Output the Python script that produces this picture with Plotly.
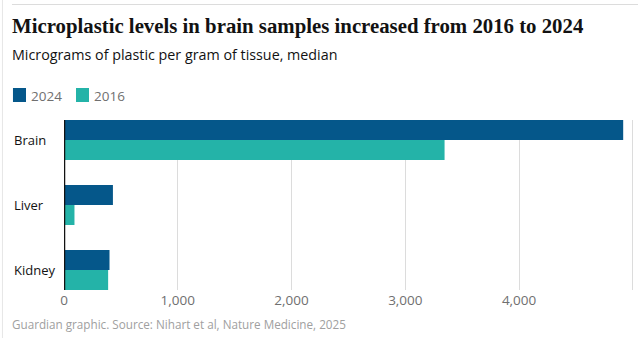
import plotly.graph_objects as go

# Median microplastic concentration (µg per g of tissue)
organs = ["Brain", "Liver", "Kidney"]
values_2024 = [4915, 430, 400]
values_2016 = [3345, 92, 388]
series_names = ["2024", "2016"]
series_colors = ["#05578a", "#24b3a8"]
x_ticks = [0, 1000, 2000, 3000, 4000, 5000]
x_tick_labels = ["0", "1,000", "2,000", "3,000", "4,000", ""]
x_max = 5010

W, H = 638, 338
L, T, B = 64, 120, 290
PX_PER_UNIT = 0.1137
R = L + x_max * PX_PER_UNIT

TEXT_FONT = "Open Sans, Noto Sans, Roboto, Arial"
HEAD_FONT = "Liberation Serif, DejaVu Serif, serif"


def px_x(p):
    return (p - L) / (R - L)


def px_y(p):
    return (B - p) / (B - T)


fig = go.Figure()
for name, vals, col in zip(series_names, [values_2024, values_2016], series_colors):
    fig.add_trace(go.Bar(
        y=organs, x=vals, name=name, orientation="h",
        marker=dict(color=col, line=dict(width=0)),
        showlegend=False, hoverinfo="x+name",
    ))

annotations = [
    dict(text="<b>Microplastic levels in brain samples increased from 2016 to 2024</b>",
         x=px_x(10), y=px_y(26), xanchor="left", yanchor="middle",
         font=dict(family=HEAD_FONT, size=20.8, color="#121212")),
    dict(text="Micrograms of plastic per gram of tissue, median",
         x=px_x(10), y=px_y(54), xanchor="left", yanchor="middle",
         font=dict(family=TEXT_FONT, size=14.3, color="#121212")),
    dict(text="Guardian graphic. Source: Nihart et al, Nature Medicine, 2025",
         x=px_x(10), y=px_y(324), xanchor="left", yanchor="middle",
         font=dict(family=TEXT_FONT, size=11.7, color="#a0a0a0")),
]

# Category labels, left aligned
for organ in organs:
    annotations.append(dict(text=organ, x=px_x(12), xref="paper", y=organ, yref="y",
                            xanchor="left", yanchor="middle", showarrow=False,
                            font=dict(family=TEXT_FONT, size=13, color="#121212")))

shapes = [
    # top rule and left frame line
    dict(type="line", xref="paper", yref="paper", x0=px_x(12), x1=px_x(W), y0=px_y(4.5), y1=px_y(4.5),
         line=dict(color="#dcdcdc", width=1)),
    dict(type="line", xref="paper", yref="paper", x0=px_x(2.5), x1=px_x(2.5), y0=px_y(0), y1=px_y(H),
         line=dict(color="#e6e6e6", width=1)),
    # baseline at zero, drawn over the bars
    dict(type="line", xref="x", yref="paper", x0=0, x1=0, y0=0, y1=1, layer="above",
         line=dict(color="#121212", width=2.5)),
]

# Legend swatches and labels
legend_x = [13, 76]
for name, col, lx in zip(series_names, series_colors, legend_x):
    shapes.append(dict(type="rect", xref="paper", yref="paper",
                       x0=px_x(lx), x1=px_x(lx + 13), y0=px_y(88), y1=px_y(102),
                       fillcolor=col, line=dict(width=0)))
    annotations.append(dict(text=name, x=px_x(lx + 16), y=px_y(96), xanchor="left", yanchor="middle",
                            font=dict(family=TEXT_FONT, size=13.5, color="#707070")))

for a in annotations:
    a.setdefault("xref", "paper")
    a.setdefault("yref", "paper")
    a.setdefault("showarrow", False)

fig.update_layout(
    width=W, height=H,
    margin=dict(l=L, r=W - R, t=T, b=H - B, pad=0),
    paper_bgcolor="white", plot_bgcolor="white",
    barmode="group", bargap=0.385, bargroupgap=0,
    annotations=annotations, shapes=shapes,
    xaxis=dict(range=[0, x_max], tickvals=x_ticks, ticktext=x_tick_labels,
               showgrid=True, gridcolor="#dcdcdc", gridwidth=1,
               zeroline=False, showline=False, ticks="",
               tickfont=dict(family=TEXT_FONT, size=13.5, color="#707070")),
    yaxis=dict(type="category", categoryorder="array", categoryarray=organs,
               range=[2.3077, -0.3077], showticklabels=False, showgrid=False,
               zeroline=False, showline=False, ticks=""),
    font=dict(family=TEXT_FONT),
)

fig.write_html("out.html")
